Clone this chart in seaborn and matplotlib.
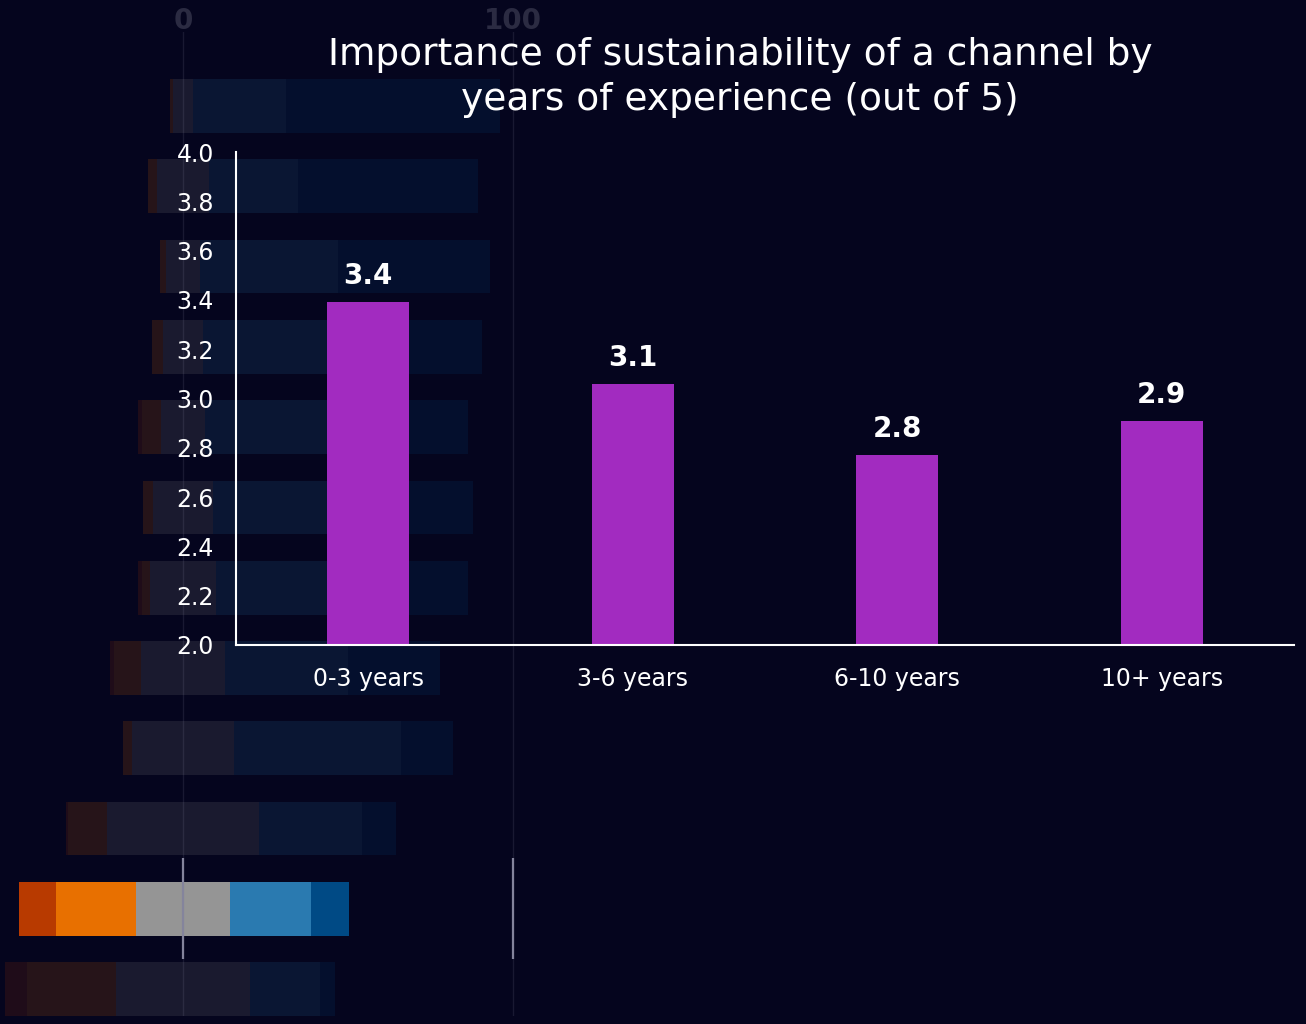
import numpy as np
import matplotlib
matplotlib.use("Agg")
import matplotlib.pyplot as plt
from matplotlib.colors import to_rgba
import seaborn as sns

# Share of answers per channel (percent), one entry per row from top to bottom
very_unimportant = [0.0, 0.0, 0.0, 0.0, 1.2, 0.0, 1.2, 1.2, 0.0, 0.6, 11.2, 6.7]
unimportant = [1.0, 2.9, 2.0, 3.4, 5.7, 3.0, 2.5, 8.2, 2.8, 11.9, 24.2, 27.0]
neutral = [6.1, 15.6, 10.2, 11.9, 13.3, 18.3, 20.1, 25.2, 30.9, 46.2, 28.7, 40.5]
important = [28.3, 27.1, 41.9, 51.1, 53.2, 48.8, 48.3, 37.3, 50.7, 31.1, 24.3, 21.2]
very_important = [64.6, 54.4, 45.9, 33.6, 26.6, 29.9, 27.9, 28.1, 15.6, 10.2, 11.6, 4.6]
highlight_row = 10
scale_ticks = [0, 100]

# Average importance of sustainability by years of experience
experience = ["0-3 years", "3-6 years", "6-10 years", "10+ years"]
importance = [3.39, 3.06, 2.77, 2.91]

BG = "#05051e"
PURPLE = "#a22bc0"
segment_colors = ["#b83a00", "#e87000", "#959595", "#2a7ab0", "#004a85"]
FADE = 0.15

plt.rcParams["font.family"] = ["DejaVu Sans"]

fig = plt.figure(figsize=(13.06, 10.24), dpi=100, facecolor=BG)

# ---- background: diverging stacked bars, one row emphasised ----
bg_ax = fig.add_axes([0, 8 / 1024, 1, 984 / 1024])
bg_ax.set_facecolor(BG)

segments = np.array([very_unimportant, unimportant, neutral, important, very_important])
rows = np.arange(segments.shape[1])
left = -(segments[0] + segments[1] + segments[2] / 2)
for seg, col in zip(segments, segment_colors):
    colors = [to_rgba(col, 1.0 if r == highlight_row else FADE) for r in rows]
    bg_ax.barh(rows, seg, left=left, height=0.67, color=colors, linewidth=0)
    left = left + seg

bg_ax.set_xlim(-183 / 3.3, (1306 - 183) / 3.3)
bg_ax.set_ylim(11.335, -0.9215)
bg_ax.set_xticks(scale_ticks)
bg_ax.set_xticklabels([str(t) for t in scale_ticks])
bg_ax.xaxis.tick_top()
bg_ax.tick_params(axis="x", length=0, pad=-2, labelsize=20, labelcolor="#2b2b42")
for lab in bg_ax.get_xticklabels():
    lab.set_fontweight("bold")
bg_ax.set_yticks([])
bg_ax.set_axisbelow(False)
bg_ax.xaxis.grid(True, color="#9090a8", alpha=FADE, linewidth=1)
bg_ax.vlines(scale_ticks, highlight_row - 0.63, highlight_row + 0.63,
             color="#84849c", linewidth=1.6, zorder=3)
for s in bg_ax.spines.values():
    s.set_visible(False)

# ---- foreground: average score per experience band ----
fg_ax = fig.add_axes([236 / 1306, (1024 - 645) / 1024, 1058 / 1306, 493 / 1024])
fg_ax.patch.set_alpha(0)
sns.barplot(x=experience, y=importance, color=PURPLE, saturation=1,
            width=0.31, ax=fg_ax)
fg_ax.set_ylim(2, 4)
fg_ax.set_xlim(-0.5, 3.5)
yt = np.round(np.arange(2.0, 4.01, 0.2), 1)
fg_ax.set_yticks(yt)
fg_ax.set_yticklabels([f"{v:.1f}" for v in yt])
fg_ax.tick_params(length=0, pad=16, labelsize=17, colors="white")
for side in ["top", "right"]:
    fg_ax.spines[side].set_visible(False)
for side in ["left", "bottom"]:
    fg_ax.spines[side].set_color("white")
    fg_ax.spines[side].set_linewidth(1.5)
fg_ax.set_xlabel("")
fg_ax.set_ylabel("")

for i, v in enumerate(importance):
    fg_ax.annotate(f"{v:.1f}", (i, v), xytext=(0, 13), textcoords="offset points",
                   ha="center", va="baseline", fontsize=20, fontweight="bold",
                   color="white")

fig.text(740 / 1306, 1 - 77.5 / 1024,
         "Importance of sustainability of a channel by\nyears of experience (out of 5)",
         ha="center", va="center", fontsize=27, color="white", linespacing=1.32)

fig.savefig("out.png", dpi=100, facecolor=BG)
